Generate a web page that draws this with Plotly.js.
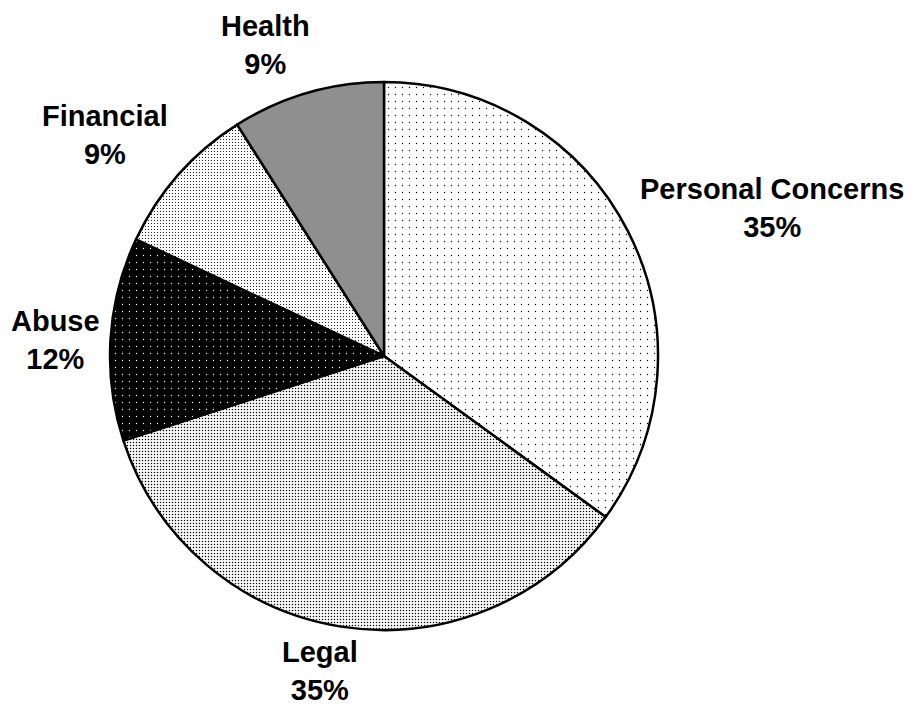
<!DOCTYPE html>
<html>
<head>
<meta charset="utf-8">
<script src="https://cdn.plot.ly/plotly-3.0.1.min.js"></script>
<style>html,body{margin:0;padding:0;background:#fff;}#chart{width:917px;height:708px;}</style>
</head>
<body>
<div id="chart"></div>
<script>
const categories = ["Personal Concerns", "Legal", "Abuse", "Financial", "Health"];
const values = [35, 35, 12, 9, 9];
const percentLabels = ["35%", "35%", "12%", "9%", "9%"];

const W = 917, H = 708;
// label placement (pixel centres of each text block)
const labelPos = [[772, 208], [320, 671], [55, 340], [105, 135], [265, 45]];

const patterns = {
  shape: [".", ".", ".", ".", "."],
  bgcolor: ["#ffffff", "#ffffff", "#000000", "#ffffff", "#ffffff"],
  fgcolor: ["#000000", "#000000", "#ffffff", "#000000", "#000000"],
  size: [7, 3, 7, 3, 2],
  solidity: [0.03, 0.2, 0.03, 0.12, 0.5],
  fillmode: "replace"
};

const trace = {
  type: "pie",
  labels: categories,
  values: values,
  sort: false,
  direction: "clockwise",
  rotation: 0,
  textinfo: "none",
  hoverinfo: "label+percent",
  marker: {
    colors: ["#ffffff", "#ffffff", "#000000", "#ffffff", "#888888"],
    line: {color: "#000000", width: 2.5},
    pattern: patterns
  },
  domain: {x: [(384 - 274) / W, (384 + 274) / W], y: [(352 - 274) / H, (352 + 274) / H]}
};

const annotations = categories.map((c, i) => ({
  xref: "paper", yref: "paper",
  x: labelPos[i][0] / W, y: 1 - labelPos[i][1] / H,
  xanchor: "center", yanchor: "middle",
  text: "<b>" + c + "</b><br><b>" + percentLabels[i] + "</b>",
  showarrow: false,
  align: "center",
  font: {family: "Liberation Sans, Arial, sans-serif", size: 29, color: "#000"}
}));

const layout = {
  width: W, height: H,
  margin: {l: 0, r: 0, t: 0, b: 0},
  paper_bgcolor: "#ffffff",
  plot_bgcolor: "#ffffff",
  showlegend: false,
  annotations: annotations
};

Plotly.newPlot("chart", [trace], layout, {displayModeBar: false, staticPlot: true});
</script>
</body>
</html>
